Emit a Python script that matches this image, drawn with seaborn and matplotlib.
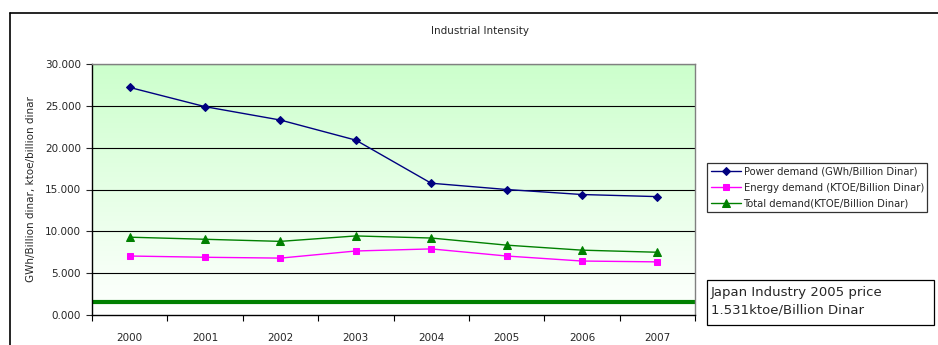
import numpy as np
import pandas as pd
import matplotlib
matplotlib.use("Agg")
import matplotlib.pyplot as plt
from matplotlib.lines import Line2D
from matplotlib.patches import Rectangle
from matplotlib.ticker import FuncFormatter, MultipleLocator
import seaborn as sns

years = ["2000", "2001", "2002", "2003", "2004", "2005", "2006", "2007"]
power_demand = [27200, 24900, 23300, 20900, 15750, 15000, 14400, 14150]
energy_demand = [7050, 6900, 6800, 7650, 7900, 7050, 6450, 6350]
total_demand = [9300, 9050, 8800, 9450, 9200, 8350, 7750, 7500]
japan_ref = 1531

series_names = [
    "Power demand (GWh/Billion Dinar)",
    "Energy demand (KTOE/Billion Dinar)",
    "Total demand(KTOE/Billion Dinar)",
]
series_values = [power_demand, energy_demand, total_demand]
series_colors = ["#000080", "#ff00ff", "#008000"]
series_markers = ["D", "s", "^"]
marker_sizes = [4.5, 5.0, 6]

sns.set_style("white")
plt.rcParams["font.family"] = ["DejaVu Sans"]

fig = plt.figure(figsize=(9.38, 3.45), dpi=100)
ax = fig.add_axes([92 / 938, 1 - 315 / 345, (695 - 92) / 938, (315 - 64) / 345])

# vertical gradient background: pale green at the top fading to white
grad = np.linspace(0, 1, 256).reshape(-1, 1)
cmap = matplotlib.colors.LinearSegmentedColormap.from_list("bg", ["#ffffff", "#ccffcc"])
ax.imshow(grad, extent=[-0.5, 7.5, 0, 30000], origin="lower", aspect="auto",
          cmap=cmap, zorder=0)

for y in range(5000, 30001, 5000):
    ax.axhline(y, color="#000000", lw=0.8, zorder=1)

x_pos = np.arange(len(years))
for name, vals, col, mk, ms in zip(series_names, series_values, series_colors,
                                   series_markers, marker_sizes):
    sns.lineplot(x=x_pos, y=vals, ax=ax, color=col, marker=mk, markersize=ms,
                 markeredgecolor=col, lw=1.0, label=name, zorder=3)

ax.axhline(japan_ref, color="#008000", lw=3, zorder=2)

ax.set_xlim(-0.5, 7.5)
ax.set_ylim(0, 30000)
ax.set_xticks(x_pos)
ax.set_xticklabels(years)
ax.xaxis.set_minor_locator(MultipleLocator(1, offset=0.5))
ax.tick_params(axis="x", which="major", length=0, pad=13, labelsize=7.5)
ax.tick_params(axis="x", which="minor", length=4, width=0.8, direction="out",
               color="#000000", bottom=True)
ax.yaxis.set_major_locator(MultipleLocator(5000))
ax.yaxis.set_major_formatter(FuncFormatter(lambda v, p: f"{v / 1000:.3f}"))
ax.tick_params(axis="y", which="major", length=4, width=0.8, direction="out",
               left=True, pad=4, labelsize=7.5)
ax.set_ylabel("GWh/Billion dinar, ktoe/billion dinar", fontsize=7.5, labelpad=6)
ax.set_xlabel("")

for side in ["left", "bottom"]:
    ax.spines[side].set_color("#000000")
    ax.spines[side].set_linewidth(1.0)
for side in ["top", "right"]:
    ax.spines[side].set_color("#808080")
    ax.spines[side].set_linewidth(1.0)

fig.text(480 / 938, 1 - 31 / 345, "Industrial Intensity", fontsize=7.5,
         ha="center", va="center")

leg = ax.legend(loc="upper left", bbox_to_anchor=(707 / 938, 1 - 163 / 345),
                bbox_transform=fig.transFigure, fontsize=7.2, frameon=True,
                fancybox=False, edgecolor="#000000", handlelength=3.0,
                handletextpad=0.3, borderpad=0.35, labelspacing=0.62,
                borderaxespad=0)
leg.get_frame().set_linewidth(0.9)

# note box with the reference intensity
fig.add_artist(Rectangle((707 / 938, 1 - 325 / 345), (934 - 707) / 938, 45 / 345,
                         transform=fig.transFigure, fc="white", ec="#000000", lw=0.9))
fig.text(711 / 938, 1 - 301 / 345, "Japan Industry 2005 price\n1.531ktoe/Billion Dinar",
         fontsize=9.5, va="center", ha="left", linespacing=1.45)

# outer chart frame
fig.add_artist(Line2D([9.5 / 938, 9.5 / 938], [0, 1 - 12.5 / 345], color="#000000",
                      lw=1.2, transform=fig.transFigure))
fig.add_artist(Line2D([9.5 / 938, 1], [1 - 12.5 / 345, 1 - 12.5 / 345], color="#000000",
                      lw=1.2, transform=fig.transFigure))

fig.savefig("out.png", dpi=100, facecolor="white")
